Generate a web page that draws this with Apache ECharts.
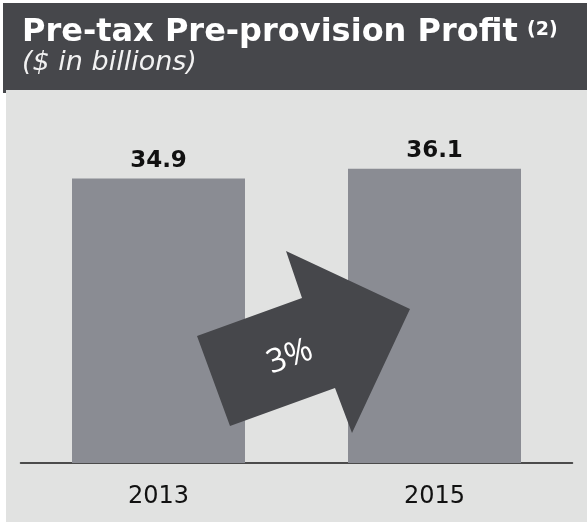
<!DOCTYPE html>
<html>
<head>
<meta charset="utf-8">
<script src="https://cdn.jsdelivr.net/npm/echarts@6/dist/echarts.min.js"></script>
<style>
html,body{margin:0;padding:0;background:#ffffff;}
#chart{width:587px;height:522px;}
</style>
</head>
<body>
<div id="chart"></div>
<script>
const categories = ['2013', '2015'];
const profitValues = [34.9, 36.1];
const changeLabel = '3%';
const titleText = 'Pre-tax Pre-provision Profit';
const noteText = '(2)';
const subtitleText = '($ in billions)';

const chart = echarts.init(document.getElementById('chart'), null, {renderer: 'canvas'});

const option = {
  backgroundColor: '#ffffff',
  animation: false,
  grid: {left: 20.5, right: 14.5, top: 137, bottom: 59, containLabel: false},
  xAxis: {
    type: 'category',
    data: categories,
    axisLine: {show: true, lineStyle: {color: '#1a1a1a', width: 1.5}},
    axisTick: {show: false},
    axisLabel: {color: '#111111', fontSize: 24, fontFamily: 'DejaVu Sans', margin: 22}
  },
  yAxis: {
    type: 'value',
    min: 0,
    max: 40,
    show: false,
    splitLine: {show: false}
  },
  graphic: [
    {type: 'rect', z: -10, shape: {x: 3, y: 3, width: 584, height: 87}, style: {fill: '#46474b'}},
    {type: 'rect', z: -10, shape: {x: 3, y: 89, width: 3, height: 4}, style: {fill: '#46474b'}},
    {type: 'rect', z: -10, shape: {x: 6, y: 90, width: 581, height: 432}, style: {fill: '#e1e2e1'}},
    {type: 'text', z: 10, x: 22, y: 33, style: {text: titleText, fill: '#ffffff', font: 'bold 32px "DejaVu Sans"', textVerticalAlign: 'middle'}},
    {type: 'text', z: 10, x: 527, y: 30, style: {text: noteText, fill: '#ffffff', font: 'bold 19px "DejaVu Sans"', textVerticalAlign: 'middle'}},
    {type: 'text', z: 10, x: 22, y: 63, style: {text: subtitleText, fill: '#f2f2f2', font: 'italic 27px "DejaVu Sans"', textVerticalAlign: 'middle'}},
    {type: 'polygon', z: 20, shape: {points: [[197,336],[302,298],[286,251],[410,309],[352,433],[335,388],[230,426]]}, style: {fill: '#46474b'}},
    {type: 'text', z: 21, x: 290, y: 357, rotation: 0.35, style: {text: changeLabel, fill: '#ffffff', font: '33px "Open Sans"', textAlign: 'center', textVerticalAlign: 'middle'}}
  ],
  series: [{
    type: 'bar',
    data: profitValues,
    barWidth: 173,
    itemStyle: {color: '#8a8c93'},
    label: {
      show: true,
      position: 'top',
      distance: 6,
      color: '#111111',
      fontSize: 23,
      fontWeight: 'bold',
      fontFamily: 'DejaVu Sans',
      formatter: p => p.value.toFixed(1)
    }
  }]
};
chart.setOption(option);
</script>
</body>
</html>
